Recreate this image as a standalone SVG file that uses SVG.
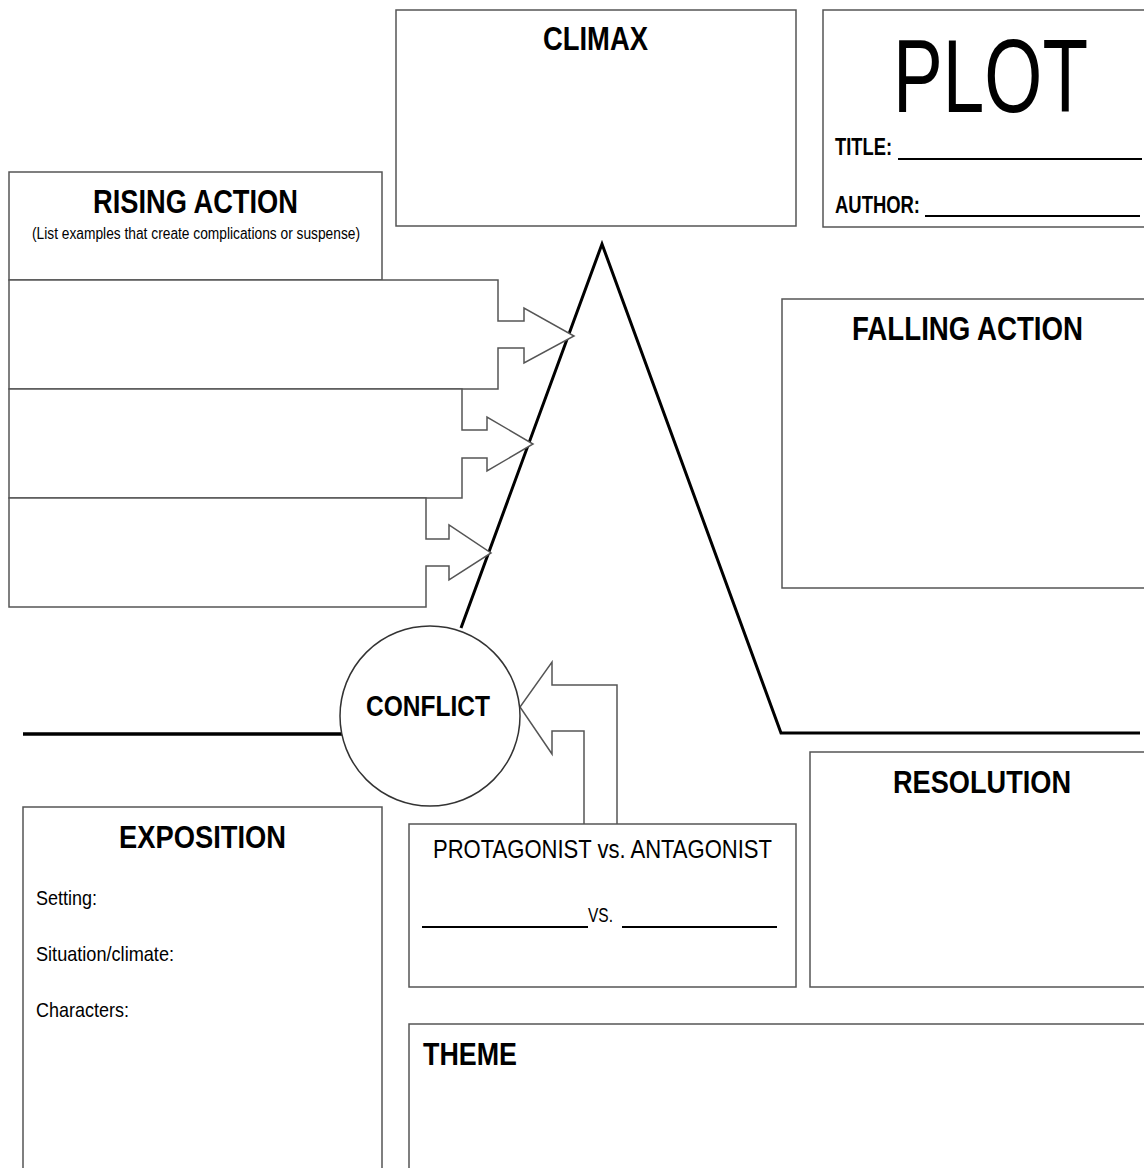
<svg xmlns="http://www.w3.org/2000/svg" width="1144" height="1168" viewBox="0 0 1144 1168">
<style>
.box{fill:#fff;stroke:#555;stroke-width:1.5}
.plot{fill:none;stroke:#000;stroke-width:3;stroke-linejoin:miter}
.rule{stroke:#000;stroke-width:2}
.h{font-family:"Liberation Sans Narrow","Liberation Sans",sans-serif;font-weight:bold;fill:#000}
.t{font-family:"Liberation Sans Narrow","Liberation Sans",sans-serif;fill:#000}
</style>
<rect width="1144" height="1168" fill="#fff"/>
<g id="connectors">
<polyline class="plot" points="461,628 602,244 781,733 1140,733"/>
<line x1="23" y1="734" x2="342" y2="734" stroke="#000" stroke-width="3.5"/>
<path d="M584,825 V731 H552 V754 L520,707 L552,662 V685 H617 V825" fill="#fff" stroke="#555" stroke-width="1.5"/>
</g>
<g id="climax">
<rect class="box" x="396" y="10" width="400" height="216"/>
<text class="h" x="543" y="50" font-size="34" textLength="105" lengthAdjust="spacingAndGlyphs">CLIMAX</text>
</g>
<g id="plot">
<rect class="box" x="823" y="10" width="400" height="217"/>
<text class="t" x="893" y="112" font-size="103" textLength="195" lengthAdjust="spacingAndGlyphs">PLOT</text>
<text class="h" x="835" y="155" font-size="23" textLength="57" lengthAdjust="spacingAndGlyphs">TITLE:</text>
<line class="rule" x1="898" y1="159" x2="1142" y2="159"/>
<text class="h" x="835" y="213" font-size="23" textLength="85" lengthAdjust="spacingAndGlyphs">AUTHOR:</text>
<line class="rule" x1="925" y1="216" x2="1140" y2="216"/>
</g>
<g id="rising-action">
<rect class="box" x="9" y="172" width="373" height="108"/>
<text class="h" x="93" y="213" font-size="34" textLength="205" lengthAdjust="spacingAndGlyphs">RISING ACTION</text>
<text class="t" x="32" y="239" font-size="16" textLength="328" lengthAdjust="spacingAndGlyphs">(List examples that create complications or suspense)</text>
</g>
<g id="rising-1">
<path class="box" d="M9,280 H498 V321 H524 V308 L574,336 L524,363 V348 H498 V389 H9 Z"/>
</g>
<g id="rising-2">
<path class="box" d="M9,389 H462 V430 H487 V417 L533,444 L487,471 V458 H462 V498 H9 Z"/>
</g>
<g id="rising-3">
<path class="box" d="M9,498 H426 V539 H449 V525 L491,553 L449,580 V566 H426 V607 H9 Z"/>
</g>
<g id="falling-action">
<rect class="box" x="782" y="299" width="400" height="289"/>
<text class="h" x="852" y="340" font-size="34" textLength="231" lengthAdjust="spacingAndGlyphs">FALLING ACTION</text>
</g>
<g id="conflict">
<circle cx="430" cy="716" r="90" fill="#fff" stroke="#333" stroke-width="1.5"/>
<text class="h" x="366" y="716" font-size="29" textLength="124" lengthAdjust="spacingAndGlyphs">CONFLICT</text>
</g>
<g id="exposition">
<rect class="box" x="23" y="807" width="359" height="400"/>
<text class="h" x="119" y="848" font-size="32" textLength="167" lengthAdjust="spacingAndGlyphs">EXPOSITION</text>
<text class="t" x="36" y="905" font-size="21" textLength="61" lengthAdjust="spacingAndGlyphs">Setting:</text>
<text class="t" x="36" y="961" font-size="21" textLength="138" lengthAdjust="spacingAndGlyphs">Situation/climate:</text>
<text class="t" x="36" y="1017" font-size="21" textLength="93" lengthAdjust="spacingAndGlyphs">Characters:</text>
</g>
<g id="protagonist">
<rect class="box" x="409" y="824" width="387" height="163"/>
<text class="t" x="433" y="858" font-size="26" textLength="339" lengthAdjust="spacingAndGlyphs">PROTAGONIST vs. ANTAGONIST</text>
<line class="rule" x1="422" y1="927" x2="588" y2="927"/>
<text class="t" x="588" y="922" font-size="20" textLength="25" lengthAdjust="spacingAndGlyphs">VS.</text>
<line class="rule" x1="622" y1="927" x2="777" y2="927"/>
</g>
<g id="resolution">
<rect class="box" x="810" y="752" width="400" height="235"/>
<text class="h" x="893" y="793" font-size="32" textLength="178" lengthAdjust="spacingAndGlyphs">RESOLUTION</text>
</g>
<g id="theme">
<rect class="box" x="409" y="1024" width="800" height="200"/>
<text class="h" x="423" y="1065" font-size="32" textLength="94" lengthAdjust="spacingAndGlyphs">THEME</text>
</g>
</svg>
